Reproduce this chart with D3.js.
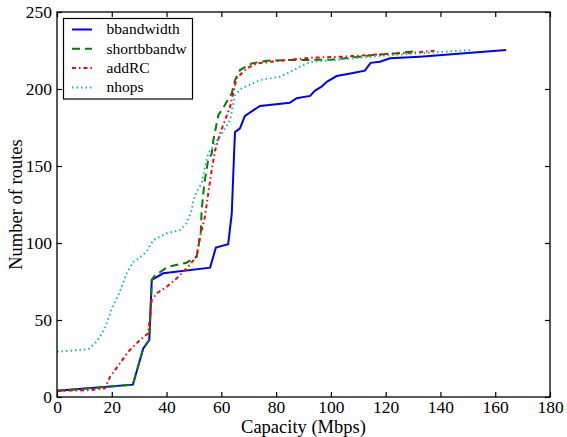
<!DOCTYPE html>
<html>
<head>
<meta charset="utf-8">
<script src="https://cdn.jsdelivr.net/npm/d3@7"></script>
<style>
  body { margin: 0; background: #fff; }
  svg { display: block; font-family: "Liberation Serif", serif; }
</style>
</head>
<body>
<div id="chart"></div>
<script>
// series names, legend order
var names = ["bbandwidth", "shortbbandw", "addRC", "nhops"];
var colors = ["#0000ff", "#008000", "#ff0000", "#00bfbf"];

// x = capacity (Mbps), y = number of routes
var bband = [[0,4],[27.7,8],[31.5,31.6],[33.7,37],[34.6,76],[38.8,80.3],[55.9,84],[58,97],
  [62.5,99.2],[63.8,119],[64.7,160],[65,172],[66.8,174.5],[68.6,182.5],[74.1,189],[85,191],
  [87.5,194],[92.4,195.5],[94.2,199],[96.6,201.5],[98.5,204.7],[102.1,208.4],[107.6,210.2],
  [112.4,211.9],[114.5,217],[117.9,217.7],[121.6,219.9],[132.5,221],[164,225.3]];
var shortb = [[0,4],[27.7,8],[31.5,31.6],[33.7,37],[34.6,76],[35.8,79],[40.6,84.6],[47.3,87.2],
  [51,91],[52.5,107],[52.8,121],[53.8,138.7],[55.2,154],[56.5,158],[57.1,166.9],[58.9,183],
  [61.3,189.6],[63.8,197.2],[65,205.8],[66.8,212.3],[71.1,216.6],[76.6,218.4],[85,218.8],
  [100,219],[110.6,221],[115.4,222],[124,223.2],[130.7,224.5]];
var addrc = [[0,4],[12,4.5],[17.5,5.6],[19.4,13.2],[23,21.9],[26,29.4],[30.3,37],[33.3,41.3],
  [34.6,63],[36.4,67.3],[40.1,71.6],[44.3,78],[47.9,84.6],[51,91.5],[52.2,104],[54,117],
  [55.2,132],[56.5,147.4],[57.7,160],[59.5,171],[63.2,188.5],[65.6,207],[69.3,213.4],
  [72.9,216.6],[81.4,218.4],[93,220.3],[104.5,221],[117.9,222.5],[130,223.6],[138.6,224.9]];
var nhops = [[0,29.4],[11.4,31],[14.5,36],[17.5,44.6],[20,57.6],[23,68.4],[25.4,80.3],[27.9,87.9],
  [29.1,89],[32.7,94.4],[35.2,102],[40,106.3],[44.9,108.4],[47.3,112.8],[49.2,121.4],[49.8,128],
  [51,133.3],[52.8,138.7],[54,149.5],[55.2,158.2],[59.5,169],[63.2,179.9],[65,196],[67.4,200.4],
  [74.1,205.8],[81.4,208],[85,211],[89.9,215.6],[93,217.7],[108.2,219.9],[121.6,222],[151.4,225.3]];
var series = [bband, shortb, addrc, nhops];
var dashes = [null, "8,5", "4,3,1.5,3", "1.5,3"];

var xTicks = d3.range(0, 181, 20);
var yTicks = d3.range(0, 251, 50);

var W = 567, H = 437;
var mLeft = 57, mRight = 550, mTop = 12, mBottom = 397;

var svg = d3.select("#chart").append("svg")
  .attr("width", W).attr("height", H);

var x = d3.scaleLinear().domain([0, 180]).range([mLeft, mRight]);
var y = d3.scaleLinear().domain([0, 250]).range([mBottom, mTop]);

// lines
var line = d3.line().x(d => x(d[0])).y(d => y(d[1]));
series.forEach(function(s, i) {
  svg.append("path")
    .attr("d", line(s))
    .attr("fill", "none")
    .attr("stroke", colors[i])
    .attr("stroke-width", 2)
    .attr("stroke-dasharray", dashes[i]);
});

// axes with inward ticks on all four sides
var tl = 5;
svg.append("g").attr("transform", "translate(0," + mBottom + ")")
  .call(d3.axisBottom(x).tickValues(xTicks).tickSizeInner(-tl).tickSizeOuter(0).tickPadding(4));
svg.append("g").attr("transform", "translate(0," + mTop + ")")
  .call(d3.axisTop(x).tickValues(xTicks).tickSizeInner(-tl).tickSizeOuter(0).tickFormat(""));
svg.append("g").attr("transform", "translate(" + mLeft + ",0)")
  .call(d3.axisLeft(y).tickValues(yTicks).tickSizeInner(-tl).tickSizeOuter(0).tickPadding(5));
svg.append("g").attr("transform", "translate(" + mRight + ",0)")
  .call(d3.axisRight(y).tickValues(yTicks).tickSizeInner(-tl).tickSizeOuter(0).tickFormat(""));

svg.selectAll(".domain").remove();
svg.selectAll(".tick line").attr("stroke", "#000").attr("stroke-width", 1.2);
svg.selectAll(".tick text").attr("font-family", "Liberation Serif").attr("font-size", 17.5).attr("fill", "#000");

svg.append("rect")
  .attr("x", mLeft).attr("y", mTop)
  .attr("width", mRight - mLeft).attr("height", mBottom - mTop)
  .attr("fill", "none").attr("stroke", "#000").attr("stroke-width", 1.3);

// axis labels
svg.append("text")
  .attr("x", (mLeft + mRight) / 2).attr("y", 433)
  .attr("text-anchor", "middle").attr("font-size", 18.5)
  .text("Capacity (Mbps)");
svg.append("text")
  .attr("transform", "translate(22," + ((mTop + mBottom) / 2) + ") rotate(-90)")
  .attr("text-anchor", "middle").attr("font-size", 18.5)
  .text("Number of routes");

// legend
var lg = svg.append("g");
lg.append("rect")
  .attr("x", 63.5).attr("y", 18.5).attr("width", 129).attr("height", 80.5)
  .attr("fill", "#fff").attr("stroke", "#000").attr("stroke-width", 1.2);
names.forEach(function(n, i) {
  var yy = 29.5 + i * 19.3;
  lg.append("line")
    .attr("x1", 72).attr("x2", 92).attr("y1", yy).attr("y2", yy)
    .attr("stroke", colors[i]).attr("stroke-width", 2)
    .attr("stroke-dasharray", dashes[i]);
  lg.append("text")
    .attr("x", 106.5).attr("y", yy).attr("dy", "0.32em")
    .attr("font-size", 15.5)
    .text(n);
});
</script>
</body>
</html>
